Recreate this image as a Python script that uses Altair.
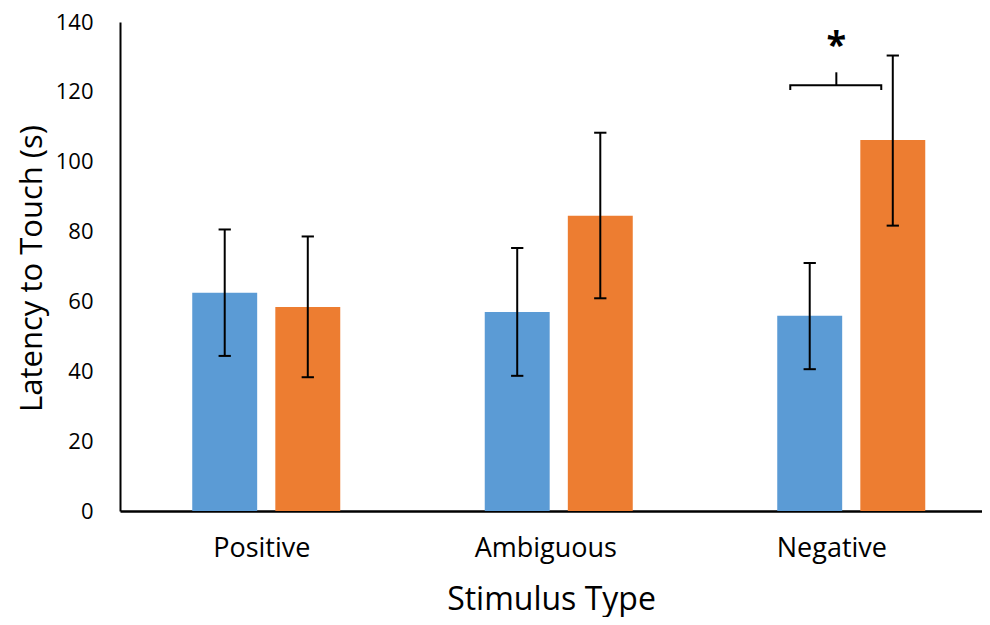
import altair as alt
import pandas as pd

categories = ["Positive", "Ambiguous", "Negative"]
groups = ["Group A", "Group B"]
blue_means = [62.5, 57.0, 55.9]
blue_lo = [44.4, 38.7, 40.6]
blue_hi = [80.6, 75.3, 71.0]
orange_means = [58.4, 84.5, 106.2]
orange_lo = [38.3, 60.9, 81.7]
orange_hi = [78.6, 108.3, 130.4]
colors = ["#5B9BD5", "#ED7D31"]

# significance annotation (Negative category)
sig_label = "*"
sig_bracket_y = 121.9
sig_bracket_end_y = 120.5
sig_stem_top = 125.6
sig_text_y = 133.2

# layout constants (in category units)
BAR_IN, BAR_OUT = 0.031, 0.253
ERR_C = 0.142
CAP = 0.021

rows = []
for i, c in enumerate(categories):
    for g, m, lo, hi, sgn in [
        (groups[0], blue_means[i], blue_lo[i], blue_hi[i], -1),
        (groups[1], orange_means[i], orange_lo[i], orange_hi[i], 1),
    ]:
        x0 = i + sgn * BAR_IN
        x1 = i + sgn * BAR_OUT
        xc = i + sgn * ERR_C
        rows.append(dict(cat=c, group=g, mean=m, lo=lo, hi=hi,
                         x0=min(x0, x1), x1=max(x0, x1), xc=xc,
                         cl=xc - CAP, cr=xc + CAP))
df = pd.DataFrame(rows)

neg = categories.index("Negative")
bl, br, bm = neg - 0.2085, neg + 0.1026, neg - 0.051
bracket = pd.DataFrame({
    "x": [bl, bl, br, br],
    "y": [sig_bracket_end_y, sig_bracket_y, sig_bracket_y, sig_bracket_end_y],
    "o": [0, 1, 2, 3],
})
stem = pd.DataFrame({"x": [bm], "y": [sig_bracket_y], "y2": [sig_stem_top]})
star = pd.DataFrame({"x": [bm], "y": [sig_text_y], "t": [sig_label]})

FONT = "Open Sans"
label_expr = "datum.value < 0.5 ? '%s' : datum.value < 1.5 ? '%s' : '%s'" % tuple(categories)

xscale = alt.Scale(domain=[-0.5, 2.447], nice=False, zero=False)
yscale = alt.Scale(domain=[0, 140], nice=False)

xaxis = alt.Axis(values=[-0.017, 0.954, 1.932], labelExpr=label_expr, grid=False,
                 ticks=False, domainColor="black", domainWidth=2.5,
                 labelFont=FONT, labelFontSize=27, labelColor="black",
                 labelPadding=24, title="Stimulus Type", titleFont=FONT,
                 titleFontSize=32, titleFontWeight="normal", titleColor="black",
                 titleBaseline="middle", titleY=88, titleAnchor="middle")
yaxis = alt.Axis(values=list(range(0, 141, 20)), grid=False, ticks=False,
                 domainColor="black", domainWidth=2, labelFont=FONT,
                 labelFontSize=22, labelColor="black", labelPadding=27,
                 title="Latency to Touch (s)", titleFont=FONT, titleFontSize=31,
                 titleFontWeight="normal", titleColor="black",
                 titleAngle=-90, titleBaseline="middle", titleAlign="center",
                 titleX=-88, titleY=246)

base = alt.Chart(df)
bars = base.mark_rect().encode(
    x=alt.X("x0:Q", scale=xscale, axis=xaxis),
    x2="x1:Q",
    y=alt.Y("mean:Q", scale=yscale, axis=yaxis),
    y2=alt.datum(0),
    color=alt.Color("group:N", scale=alt.Scale(domain=groups, range=colors), legend=None),
)
err = base.mark_rule(color="black", strokeWidth=2).encode(x="xc:Q", y="lo:Q", y2="hi:Q")
cap_lo = base.mark_rule(color="black", strokeWidth=2).encode(x="cl:Q", x2="cr:Q", y="lo:Q")
cap_hi = base.mark_rule(color="black", strokeWidth=2).encode(x="cl:Q", x2="cr:Q", y="hi:Q")

br_line = alt.Chart(bracket).mark_line(color="black", strokeWidth=2).encode(
    x="x:Q", y="y:Q", order="o:Q")
stem_rule = alt.Chart(stem).mark_rule(color="black", strokeWidth=2).encode(
    x="x:Q", y="y:Q", y2="y2:Q")
star_text = alt.Chart(star).mark_text(font=FONT, fontSize=36, fontWeight="bold",
                                       baseline="middle", align="center", color="black").encode(
    x="x:Q", y="y:Q", text="t:N")

chart = alt.layer(bars, err, cap_lo, cap_hi, br_line, stem_rule, star_text).properties(
    width=862, height=489,
    autosize=alt.AutoSizeParams(type="none"),
    padding={"left": 112, "top": 14, "right": 0, "bottom": 106},
    background="white",
).configure_view(stroke=None)

chart.save("out.html", embed_options={"renderer": "svg", "actions": False})
